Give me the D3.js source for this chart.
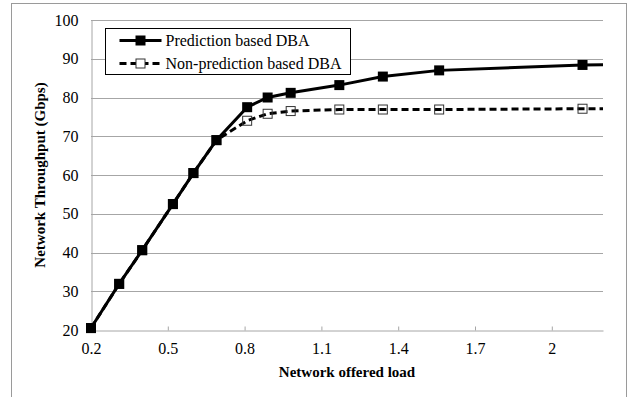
<!DOCTYPE html>
<html>
<head>
<meta charset="utf-8">
<script src="https://cdn.jsdelivr.net/npm/d3@7"></script>
<style>
  body { margin: 0; background: #fff; }
</style>
</head>
<body>
<svg id="chart" width="636" height="397"></svg>
<script>
// offered load values (x) for each measured point
const loads = [0.2, 0.31, 0.4, 0.52, 0.6, 0.69, 0.81, 0.89, 0.98, 1.17, 1.34, 1.56, 2.12, 2.5];
const predictionDBA = [20.5, 31.9, 40.6, 52.5, 60.5, 69.0, 77.5, 80.0, 81.2, 83.2, 85.4, 87.0, 88.4, 88.7];
const nonPredictionDBA = [20.5, 31.9, 40.6, 52.5, 60.5, 69.0, 74.0, 75.8, 76.5, 76.9, 76.9, 76.9, 77.1, 77.1];
const xTicks = [0.2, 0.5, 0.8, 1.1, 1.4, 1.7, 2.0];
const yTicks = [20, 30, 40, 50, 60, 70, 80, 90, 100];
const legendLabels = ["Prediction based DBA", "Non-prediction based DBA"];

const FONT = '"Liberation Serif", "Times New Roman", serif';
const svg = d3.select("#chart");
const margin = { left: 91, right: 33, top: 20, bottom: 67 };
const width = 636, height = 397;

// outer chart frame
svg.append("rect")
  .attr("x", 11.5).attr("y", 3.5)
  .attr("width", 615).attr("height", 420)
  .attr("fill", "none")
  .attr("stroke", "#9a9a9a");

const x = d3.scaleLinear().domain([0.2, 2.2]).range([margin.left, width - margin.right]);
const y = d3.scaleLinear().domain([20, 100]).range([height - margin.bottom, margin.top]);

// gridlines
svg.append("g")
  .selectAll("line")
  .data(yTicks.slice(1))
  .join("line")
  .attr("x1", x(0.2)).attr("x2", x(2.2))
  .attr("y1", (d) => Math.round(y(d)) + 0.5)
  .attr("y2", (d) => Math.round(y(d)) + 0.5)
  .attr("stroke", "#a6a6a6");

// y axis
const yAxis = svg.append("g")
  .attr("transform", `translate(${margin.left + 0.5},0)`)
  .call(d3.axisLeft(y).tickValues(yTicks).tickSize(0).tickPadding(13).tickFormat(d3.format("d")));
yAxis.select(".domain").attr("stroke", "#a6a6a6");
yAxis.selectAll("text").style("font-size", "16px").style("font-family", FONT);

// x axis, ticks point up into the plot
const xAxis = svg.append("g")
  .attr("transform", `translate(0,${Math.round(y(20)) + 0.5})`)
  .call(d3.axisBottom(x).tickValues(xTicks).tickSize(0).tickPadding(12).tickFormat((d) => (d === 2 ? "2" : d3.format(".1f")(d))));
xAxis.select(".domain").attr("stroke", "#a6a6a6");
xAxis.selectAll(".tick line").attr("y2", -4).attr("stroke", "#a6a6a6");
xAxis.selectAll("text").style("font-size", "16px").style("font-family", FONT);

// axis titles
svg.append("text")
  .attr("x", (x(0.2) + x(2.2)) / 2)
  .attr("y", 377)
  .attr("text-anchor", "middle")
  .style("font-family", FONT)
  .style("font-size", "15px")
  .style("font-weight", "bold")
  .text("Network offered load");

svg.append("text")
  .attr("transform", `translate(45,${(y(20) + y(100)) / 2}) rotate(-90)`)
  .attr("text-anchor", "middle")
  .style("font-family", FONT)
  .style("font-size", "15px")
  .style("font-weight", "bold")
  .text("Network Throughput (Gbps)");

// clip so lines end at the plot's right edge
svg.append("clipPath").attr("id", "plot-clip")
  .append("rect")
  .attr("x", x(0.2) - 10).attr("y", 0)
  .attr("width", x(2.2) - x(0.2) + 10).attr("height", height);

const plot = svg.append("g").attr("clip-path", "url(#plot-clip)");

const line = d3.line().x((d) => x(d[0])).y((d) => y(d[1]));
const nonPts = loads.map((l, i) => [l, nonPredictionDBA[i]]);
const predPts = loads.map((l, i) => [l, predictionDBA[i]]);

plot.append("path")
  .attr("d", line(nonPts))
  .attr("fill", "none")
  .attr("stroke", "#000")
  .attr("stroke-width", 3)
  .attr("stroke-dasharray", "7,4");

plot.append("g")
  .selectAll("rect")
  .data(nonPts)
  .join("rect")
  .attr("x", (d) => x(d[0]) - 4.5)
  .attr("y", (d) => y(d[1]) - 4.5)
  .attr("width", 9).attr("height", 9)
  .attr("fill", "none")
  .attr("stroke", "#333")
  .attr("stroke-width", 1);

plot.append("path")
  .attr("d", line(predPts))
  .attr("fill", "none")
  .attr("stroke", "#000")
  .attr("stroke-width", 3);

plot.append("g")
  .selectAll("rect")
  .data(predPts)
  .join("rect")
  .attr("x", (d) => x(d[0]) - 5)
  .attr("y", (d) => y(d[1]) - 5)
  .attr("width", 10).attr("height", 10)
  .attr("fill", "#000");

// legend
const legend = svg.append("g").attr("transform", "translate(105.5,28.5)");
legend.append("rect")
  .attr("width", 245).attr("height", 46)
  .attr("fill", "#fff")
  .attr("stroke", "#000");

legendLabels.forEach((label, i) => {
  const ly = 12 + i * 23;
  legend.append("line")
    .attr("x1", 14).attr("x2", 56)
    .attr("y1", ly).attr("y2", ly)
    .attr("stroke", "#000")
    .attr("stroke-width", 3)
    .attr("stroke-dasharray", i === 0 ? null : "7,4");
  legend.append("rect")
    .attr("x", 35 - (i === 0 ? 5 : 4.5))
    .attr("y", ly - (i === 0 ? 5 : 4.5))
    .attr("width", i === 0 ? 10 : 9)
    .attr("height", i === 0 ? 10 : 9)
    .attr("fill", i === 0 ? "#000" : "#fff")
    .attr("stroke", i === 0 ? null : "#333");
  legend.append("text")
    .attr("x", 60).attr("y", ly + 5)
    .style("font-family", FONT)
    .style("font-size", "16px")
    .text(label);
});
</script>
</body>
</html>
